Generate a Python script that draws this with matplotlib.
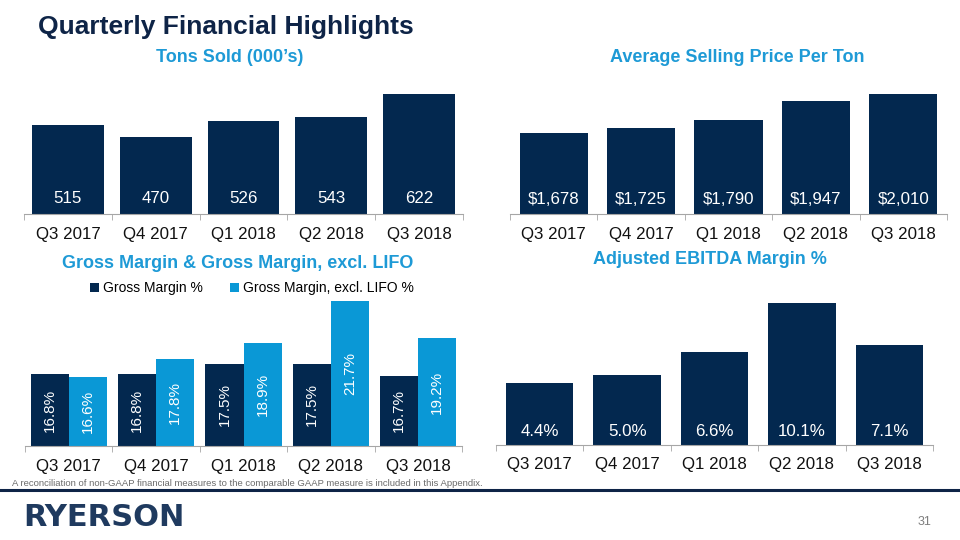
import matplotlib
matplotlib.use("Agg")
import matplotlib.pyplot as plt
import numpy as np

plt.rcParams['font.family'] = ['Liberation Sans', 'DejaVu Sans']

quarters = ["Q3 2017", "Q4 2017", "Q1 2018", "Q2 2018", "Q3 2018"]
tons = [515, 470, 526, 543, 622]
asp = [1678, 1725, 1790, 1947, 2010]
gm = [16.8, 16.8, 17.5, 17.5, 16.7]
gm_ex_lifo = [16.6, 17.8, 18.9, 21.7, 19.2]
ebitda = [4.4, 5.0, 6.6, 10.1, 7.1]

NAVY = "#03284F"
LIGHT = "#0A98D6"
TITLE = "#0E2447"
SUB = "#1E9AD6"
W, H = 960, 540

fig = plt.figure(figsize=(9.6, 5.4), dpi=100)


def ax_at(x0, y_base, x1, y_top):
    return fig.add_axes([x0 / W, 1 - y_base / H, (x1 - x0) / W, (y_base - y_top) / H])


def style(ax):
    for s in ["top", "right", "left"]:
        ax.spines[s].set_visible(False)
    ax.spines["bottom"].set_color("#A6A6A6")
    ax.set_yticks([])
    x = np.arange(len(quarters))
    ax.set_xticks(x)
    ax.set_xticklabels(quarters, fontsize=12.2, color="#111111")
    ax.tick_params(axis="x", which="major", length=0, pad=9)
    ax.set_xticks(np.arange(len(quarters) + 1) - 0.5, minor=True)
    ax.tick_params(axis="x", which="minor", length=4, color="#A6A6A6")
    ax.set_xlim(-0.5, len(quarters) - 0.5)


def subtitle(x, y, s):
    fig.text(x / W, 1 - y / H, s, ha="center", va="center", fontsize=13,
             fontweight="bold", color=SUB)


# Tons sold
ax1 = ax_at(24, 214, 463, 72)
x = np.arange(len(quarters))
ax1.bar(x, tons, width=0.82, color=NAVY)
ax1.set_ylim(200, 700)
style(ax1)
for i, v in enumerate(tons):
    ax1.text(i, 253, f"{v}", ha="center", va="center", color="white", fontsize=12.2)

# Average selling price
ax2 = ax_at(510, 214, 947, 71)
ax2.bar(x, asp, width=0.78, color=NAVY)
ax2.set_ylim(1000, 2200)
style(ax2)
for i, v in enumerate(asp):
    ax2.text(i, 1118, f"${v:,}", ha="center", va="center", color="white", fontsize=12.2)

# Gross margin
ax3 = ax_at(25, 446, 462, 296)
bw = 0.435
ax3.bar(x - bw / 2, gm, width=bw, color=NAVY, label="Gross Margin %")
ax3.bar(x + bw / 2, gm_ex_lifo, width=bw, color=LIGHT, label="Gross Margin, excl. LIFO %")
ax3.set_ylim(12, 22)
style(ax3)
for i in range(len(quarters)):
    ax3.text(i - bw / 2, (12 + gm[i]) / 2, f"{gm[i]}%", rotation=90, ha="center",
             va="center", color="white", fontsize=11)
    ax3.text(i + bw / 2, (12 + gm_ex_lifo[i]) / 2, f"{gm_ex_lifo[i]}%", rotation=90,
             ha="center", va="center", color="white", fontsize=11)
ax3.legend(loc="center", bbox_to_anchor=(252 / W, 1 - 288 / H), bbox_transform=fig.transFigure,
           ncol=2, frameon=False, fontsize=10, handlelength=0.6, handleheight=0.6,
           handletextpad=0.3, columnspacing=2.0)

# Adjusted EBITDA
ax4 = ax_at(496, 445, 933, 276)
ax4.bar(x, ebitda, width=0.77, color=NAVY)
ax4.set_ylim(0, 12)
style(ax4)
for i, v in enumerate(ebitda):
    ax4.text(i, 0.95, f"{v:.1f}%", ha="center", va="center", color="white", fontsize=12.2)

fig.text(38 / W, 1 - 27 / H, "Quarterly Financial Highlights", ha="left", va="center",
         fontsize=19, fontweight="bold", color=TITLE)
subtitle(230, 57, "Tons Sold (000\u2019s)")
subtitle(737, 57, "Average Selling Price Per Ton")
subtitle(238, 264, "Gross Margin & Gross Margin, excl. LIFO")
subtitle(710, 260, "Adjusted EBITDA Margin %")

fig.text(12 / W, 1 - 483 / H,
         "A reconciliation of non-GAAP financial measures to the comparable GAAP measure is included in this Appendix.",
         ha="left", va="center", fontsize=6.8, color="#6B6B6B")
fig.add_artist(plt.Line2D([0, 1], [1 - 490 / H, 1 - 490 / H], color="#0E2447", lw=2.2,
                          transform=fig.transFigure))
fig.text(23 / W, 1 - 518 / H, "RYERSON", ha="left", va="center", fontsize=22,
         fontweight="bold", color="#1F3A5F", family="DejaVu Sans")
fig.text(925 / W, 1 - 522 / H, "31", ha="center", va="center", fontsize=9, color="#7F7F7F")

fig.savefig("out.png", dpi=100)
